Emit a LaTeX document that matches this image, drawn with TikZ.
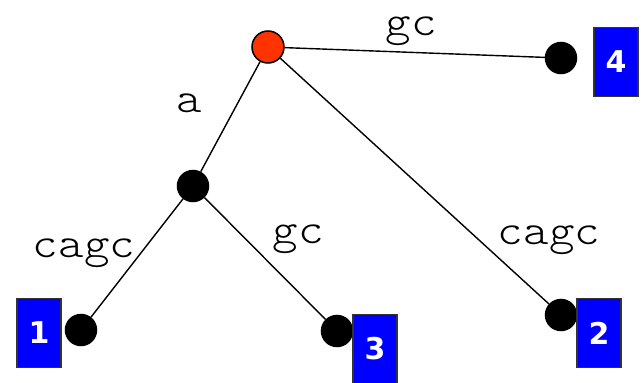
\documentclass[tikz,border=0pt]{standalone}
\usepackage{fontspec}
\newfontfamily\numfont{DejaVu Sans}
\newfontfamily\labelfont[FakeStretch=1.13]{Latin Modern Mono Light}
\definecolor{rootred}{HTML}{FF3300}
\definecolor{boxblue}{HTML}{0000FF}
\begin{document}
\begin{tikzpicture}[x=1pt,y=-1pt,
  leaf/.style={circle,fill=black,draw=black,line width=1.5pt,minimum size=31pt,inner sep=0pt},
  rootnode/.style={circle,fill=rootred,draw=black,line width=1.5pt,minimum size=32pt,inner sep=0pt},
  numbox/.style={rectangle,fill=boxblue,draw=black!80,line width=1.2pt,minimum width=44pt,minimum height=69pt,inner sep=0pt,text=white,font=\numfont\bfseries\fontsize{30}{30}\selectfont},
  edgelabel/.style={font=\labelfont\fontsize{43}{43}\selectfont,inner sep=0pt,anchor=base},
  edge/.style={line width=1.4pt}]
\useasboundingbox (0,0) rectangle (641,383);
\node[rootnode] (r) at (268,47) {};
\node[leaf] (v) at (193,186) {};
\node[leaf] (n4) at (561,58) {};
\node[leaf] (n1) at (81,330) {};
\node[leaf] (n3) at (337,331) {};
\node[leaf] (n2) at (561,315) {};
\node[numbox] (b4) at (616,62) {4};
\node[numbox] (b1) at (39,333) {1};
\node[numbox] (b3) at (375,349) {3};
\node[numbox] (b2) at (599,333) {2};
\draw[edge] (r) -- (n4);
\draw[edge] (r) -- (v);
\draw[edge] (r) -- (n2);
\draw[edge] (v) -- (n1);
\draw[edge] (v) -- (n3);
\node[edgelabel] (l4) at (411,35) {gc};
\node[edgelabel] (la) at (189,112) {a};
\node[edgelabel] (l1) at (84,257) {cagc};
\node[edgelabel] (l3) at (298,243) {gc};
\node[edgelabel] (l2) at (549,244) {cagc};
\end{tikzpicture}
\end{document}
